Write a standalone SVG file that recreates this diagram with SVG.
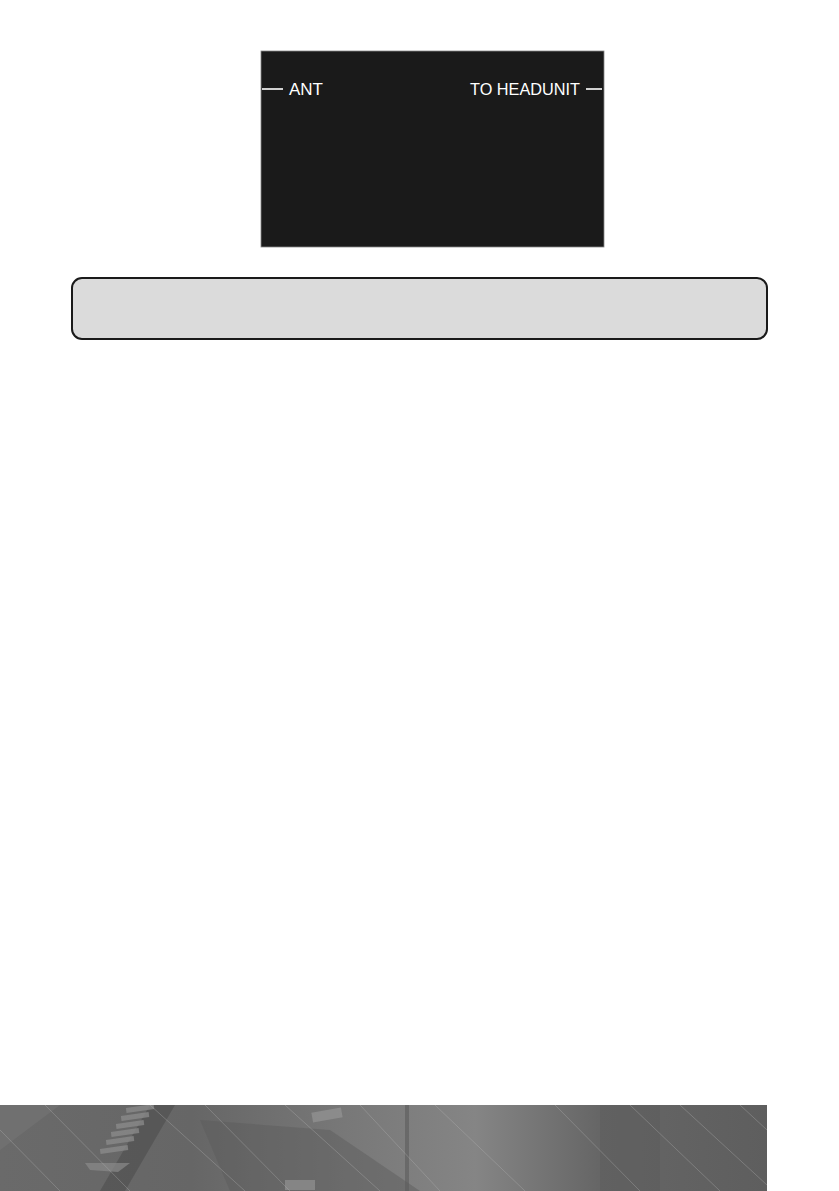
<svg xmlns="http://www.w3.org/2000/svg" width="839" height="1191" viewBox="0 0 839 1191">
<defs>
<style>
.lbl{font-family:"Liberation Sans",Arial,sans-serif;font-size:17px;fill:#ffffff}
.wire{stroke:#ffffff;stroke-width:1.6;fill:none}
.streak{stroke:#b4b4b4;stroke-width:1;fill:none;opacity:0.35}
</style>
<linearGradient id="band" x1="0" y1="0" x2="1" y2="0">
<stop offset="0" stop-color="#6a6a6a"/>
<stop offset="0.25" stop-color="#666666"/>
<stop offset="0.45" stop-color="#787878"/>
<stop offset="0.62" stop-color="#858585"/>
<stop offset="0.78" stop-color="#666666"/>
<stop offset="1" stop-color="#5e5e5e"/>
</linearGradient>
<clipPath id="bandclip"><rect x="0" y="1105" width="767" height="86"/></clipPath>
</defs>
<rect width="839" height="1191" fill="#ffffff"/>
<g id="module">
<rect x="261" y="51" width="343" height="196" fill="#1a1a1a"/>
<rect x="261" y="51" width="343" height="196" fill="none" stroke="#888" stroke-width="0.8"/>
</g>
<g id="connectors">
<line class="wire" x1="262" y1="89" x2="283" y2="89"/>
<line class="wire" x1="586" y1="89" x2="602" y2="89"/>
</g>
<g id="label-ant"><text class="lbl" x="289" y="95">ANT</text></g>
<g id="label-headunit"><text class="lbl" x="470" y="95" textLength="110" lengthAdjust="spacingAndGlyphs">TO HEADUNIT</text></g>
<g id="note-box">
<rect x="72" y="278" width="695" height="61" rx="10" ry="10" fill="#dbdbdb" stroke="#1a1a1a" stroke-width="2"/>
</g>
<g id="footer" clip-path="url(#bandclip)">
<rect x="0" y="1105" width="767" height="86" fill="url(#band)"/>
<polygon points="0,1105 60,1105 0,1150" fill="#747474" opacity="0.6"/>
<polygon points="100,1191 150,1105 175,1105 125,1191" fill="#4a4a4a" opacity="0.55"/>
<polygon points="85,1163 130,1163 118,1172 90,1170" fill="#8a8a8a" opacity="0.7"/>
<g fill="#8c8c8c" opacity="0.75">
<rect x="126" y="1106" width="28" height="5" transform="rotate(-8 140 1108)"/>
<rect x="121" y="1114" width="28" height="5" transform="rotate(-8 135 1116)"/>
<rect x="116" y="1122" width="28" height="5" transform="rotate(-8 130 1124)"/>
<rect x="111" y="1130" width="28" height="5" transform="rotate(-8 125 1132)"/>
<rect x="106" y="1138" width="28" height="5" transform="rotate(-8 120 1140)"/>
<rect x="100" y="1147" width="28" height="5" transform="rotate(-8 114 1149)"/>
</g>
<polygon points="200,1120 330,1130 420,1191 230,1191" fill="#5a5a5a" opacity="0.45"/>
<rect x="312" y="1110" width="30" height="10" fill="#9a9a9a" opacity="0.6" transform="rotate(-10 327 1115)"/>
<rect x="285" y="1180" width="30" height="10" fill="#9a9a9a" opacity="0.6"/>
<rect x="405" y="1105" width="4" height="86" fill="#5c5c5c" opacity="0.6"/>
<rect x="600" y="1105" width="60" height="86" fill="#5a5a5a" opacity="0.35"/>
<path class="streak" d="M45,1105 L130,1191"/>
<path class="streak" d="M150,1105 L245,1191"/>
<path class="streak" d="M205,1105 L290,1191"/>
<path class="streak" d="M285,1105 L380,1191"/>
<path class="streak" d="M360,1105 L440,1191"/>
<path class="streak" d="M435,1105 L525,1191"/>
<path class="streak" d="M555,1105 L640,1191"/>
<path class="streak" d="M630,1105 L720,1191"/>
<path class="streak" d="M680,1105 L767,1185"/>
<path class="streak" d="M740,1105 L767,1130"/>
<path class="streak" d="M0,1130 L60,1191"/>
</g>
</svg>
